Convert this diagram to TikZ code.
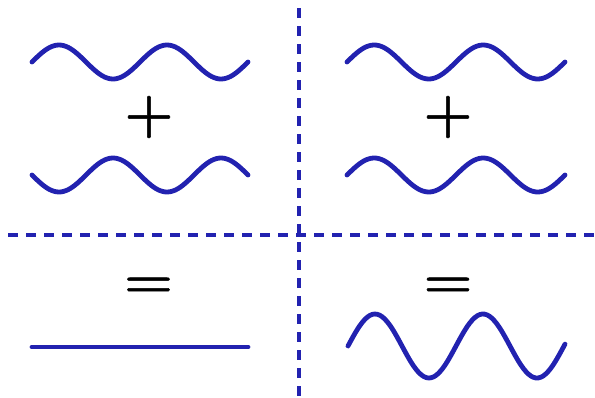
\documentclass[tikz,border=0pt]{standalone}
\usepackage{fontspec}
\usepackage{xcolor}
\usepackage{tikz}
\newfontfamily\signfont{lmroman10-bold.otf}[FakeBold=1]
\definecolor{wave}{HTML}{2222B0}

\tikzset{
  wline/.style={draw=wave, line width=4.8pt, line cap=round},
  grid/.style={draw=wave, line width=4pt, dash pattern=on 10pt off 8pt},
  sign/.style={inner sep=0pt, font=\fontsize{55}{55}\signfont}
}

\begin{document}
\begin{tikzpicture}[x=1pt, y=-1pt]
        \useasboundingbox (0,0) rectangle (595,397);
        \draw[grid] (299,8) -- (299,397);
        \draw[grid] (8,235) -- (595,235);
        \draw[wline] plot[domain=32:248, samples=90, smooth] (\x, {62-17*sin((\x-32)*3.3333)});
        \draw[wline] plot[domain=32:248, samples=90, smooth] (\x, {175+17*sin((\x-32)*3.3333)});
        \draw[wline] plot[domain=347:565, samples=90, smooth] (\x, {62-17*sin((\x-347)*3.3028)});
        \draw[wline] plot[domain=347:565, samples=90, smooth] (\x, {175-17*sin((\x-347)*3.3028)});
        \draw[wline] (32,347) -- (248,347);
        \draw[wline] plot[domain=348:565, samples=90, smooth] (\x, {346-32*sin((\x-348)*3.3333)});
        \node[sign] (plusL) at (149,117) {+};
        \node[sign] (plusR) at (448,117) {+};
        \node[sign] (eqL) at (148.5,287) {\scalebox{1}[0.86]{=}};
        \node[sign] (eqR) at (448,287) {\scalebox{1}[0.86]{=}};
    \end{tikzpicture}
\end{document}
